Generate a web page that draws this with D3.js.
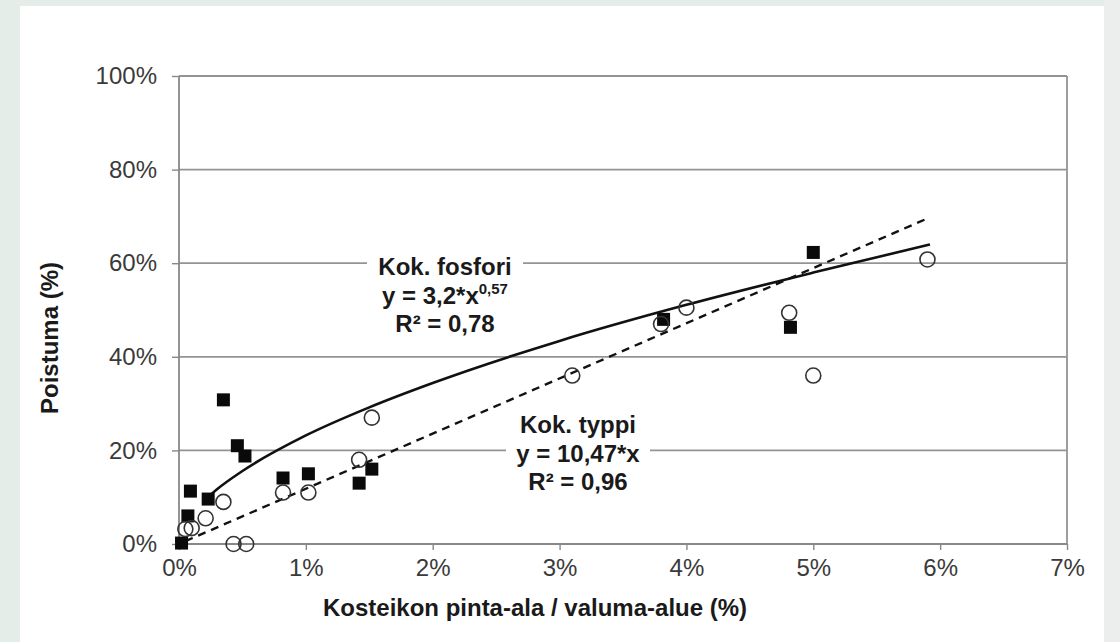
<!DOCTYPE html>
<html>
<head>
<meta charset="utf-8">
<script src="https://cdn.jsdelivr.net/npm/d3@7"></script>
<style>
  html, body { margin: 0; padding: 0; background: #e5ede8; }
  svg { display: block; font-family: "Liberation Sans", Arial, sans-serif; }
  .tick text { fill: #3a3a3a; font-size: 24px; }
</style>
</head>
<body>
<svg id="chart" width="1120" height="642"></svg>
<script>
// Kok. fosfori (filled squares), x = pinta-ala %, y = poistuma %
const fosforiX = [0.02, 0.07, 0.09, 0.23, 0.35, 0.46, 0.52, 0.82, 1.02, 1.42, 1.52, 3.82, 4.82, 5.0]
const fosforiY = [0.2, 6, 11.3, 9.6, 30.8, 21, 18.8, 14.1, 15, 13, 16, 48, 46.3, 62.3]

// Kok. typpi (open circles)
const typpiX = [0.05, 0.1, 0.21, 0.35, 0.43, 0.53, 0.82, 1.02, 1.42, 1.52, 3.1, 3.8, 4.0, 4.81, 5.0, 5.9]
const typpiY = [3.2, 3.4, 5.5, 9, 0, 0, 11, 11, 18, 27, 36, 47, 50.5, 49.4, 36, 60.8]

// trend lines
const fosforiCurveX = [0.2, 0.3, 0.5, 1, 1.5, 2, 3, 4, 5, 5.92]
const fosforiCurveY = [9.3, 11.7, 15.6, 23.2, 29.2, 34.4, 43.4, 51.1, 58.0, 64.0]
const typpiLineX = [0.05, 5.92]
const typpiLineY = [0.6, 69.8]

const xTicks = [0, 1, 2, 3, 4, 5, 6, 7]
const yTicks = [0, 20, 40, 60, 80, 100]

const MARGIN = { top: 76, right: 53, bottom: 98, left: 179 }
const width = 1120, height = 642
const boundedWidth = width - MARGIN.left - MARGIN.right
const boundedHeight = height - MARGIN.top - MARGIN.bottom

const $svg = d3.select('#chart')

// panel background
$svg.append('rect').attr('x', 0).attr('y', 0).attr('width', width).attr('height', height).attr('fill', '#e5ede8')
$svg.append('rect').attr('x', 20).attr('y', 6).attr('width', 1084).attr('height', 640).attr('fill', '#ffffff')
$svg.append('rect').attr('x', 1104).attr('y', 0).attr('width', 16).attr('height', height).attr('fill', '#eceeed')

const xScale = d3.scaleLinear().domain([0, 7]).range([0, boundedWidth])
const yScale = d3.scaleLinear().domain([0, 100]).range([boundedHeight, 0])

const $g = $svg.append('g').attr('transform', `translate(${MARGIN.left}, ${MARGIN.top})`)

// gridlines
$g.append('g').selectAll('line')
  .data(yTicks.filter(d => d > 0))
  .join('line')
    .attr('x1', 0).attr('x2', boundedWidth)
    .attr('y1', d => yScale(d)).attr('y2', d => yScale(d))
    .attr('stroke', '#949494').attr('stroke-width', 1.8)
$g.append('line')
  .attr('x1', boundedWidth).attr('x2', boundedWidth)
  .attr('y1', 0).attr('y2', boundedHeight)
  .attr('stroke', '#949494').attr('stroke-width', 1.8)

// axes
const xAxis = $g.append('g')
  .attr('transform', `translate(0, ${boundedHeight})`)
  .call(d3.axisBottom(xScale).tickValues(xTicks).tickFormat(d => d + '%').tickSize(6).tickPadding(9))
const yAxis = $g.append('g')
  .call(d3.axisLeft(yScale).tickValues(yTicks).tickFormat(d => d + '%').tickSize(7).tickPadding(15))
$g.selectAll('.domain').attr('stroke', '#888').attr('stroke-width', 1.8)
$g.selectAll('.tick line').attr('stroke', '#888').attr('stroke-width', 1.4)
xAxis.selectAll('.domain').attr('d', `M0,0H${boundedWidth}`)
yAxis.selectAll('.domain').attr('d', `M0,${boundedHeight}V0`)
$g.selectAll('.tick text').attr('font-family', '"Liberation Sans", Arial, sans-serif')

// trend lines
const lineGen = d3.line()
  .x(d => xScale(d[0]))
  .y(d => yScale(d[1]))
  .curve(d3.curveMonotoneX)

$g.append('path')
  .datum(fosforiCurveX.map((x, i) => [x, fosforiCurveY[i]]))
  .attr('d', lineGen)
  .attr('fill', 'none').attr('stroke', '#111').attr('stroke-width', 2.6)

$g.append('path')
  .datum(typpiLineX.map((x, i) => [x, typpiLineY[i]]))
  .attr('d', lineGen)
  .attr('fill', 'none').attr('stroke', '#111').attr('stroke-width', 2.4)
  .attr('stroke-dasharray', '8,6')

// points
const sq = 13
$g.append('g').selectAll('rect')
  .data(fosforiX.map((x, i) => [x, fosforiY[i]]))
  .join('rect')
    .attr('x', d => xScale(d[0]) - sq / 2)
    .attr('y', d => yScale(d[1]) - sq / 2)
    .attr('width', sq).attr('height', sq)
    .attr('fill', '#0a0a0a')

$g.append('g').selectAll('circle')
  .data(typpiX.map((x, i) => [x, typpiY[i]]))
  .join('circle')
    .attr('cx', d => xScale(d[0]))
    .attr('cy', d => yScale(d[1]))
    .attr('r', 7.5)
    .attr('fill', 'none')
    .attr('stroke', '#333').attr('stroke-width', 1.6)

// equation labels
function eqLabel(cx, y0, lines, boxW){
  const $l = $svg.append('g')
  $l.append('rect')
    .attr('x', cx - boxW / 2).attr('y', y0 - 24)
    .attr('width', boxW).attr('height', 88)
    .attr('fill', '#fff')
  lines.forEach((t, i) => {
    const $t = $l.append('text')
      .attr('x', cx).attr('y', y0 + i * 28.5)
      .attr('text-anchor', 'middle')
      .attr('font-weight', 'bold').attr('font-size', 24)
      .attr('fill', '#1a1a1a')
    t.forEach(part => {
      const $s = $t.append('tspan').text(part.s)
      if (part.sup) $s.attr('font-size', 15).attr('dy', -10)
    })
  })
}
eqLabel(445, 275, [
  [{ s: 'Kok. fosfori' }],
  [{ s: 'y = 3,2*x' }, { s: '0,57', sup: true }],
  [{ s: 'R² = 0,78' }]
], 156)
eqLabel(578, 433, [
  [{ s: 'Kok. typpi' }],
  [{ s: 'y = 10,47*x' }],
  [{ s: 'R² = 0,96' }]
], 144)

// axis titles
$svg.append('text')
  .attr('x', 535).attr('y', 616)
  .attr('text-anchor', 'middle')
  .attr('font-weight', 'bold').attr('font-size', 24)
  .attr('fill', '#1a1a1a')
  .text('Kosteikon pinta-ala / valuma-alue (%)')
$svg.append('text')
  .attr('transform', `translate(58, 338) rotate(-90)`)
  .attr('text-anchor', 'middle')
  .attr('font-weight', 'bold').attr('font-size', 24)
  .attr('fill', '#1a1a1a')
  .text('Poistuma (%)')
</script>
</body>
</html>
